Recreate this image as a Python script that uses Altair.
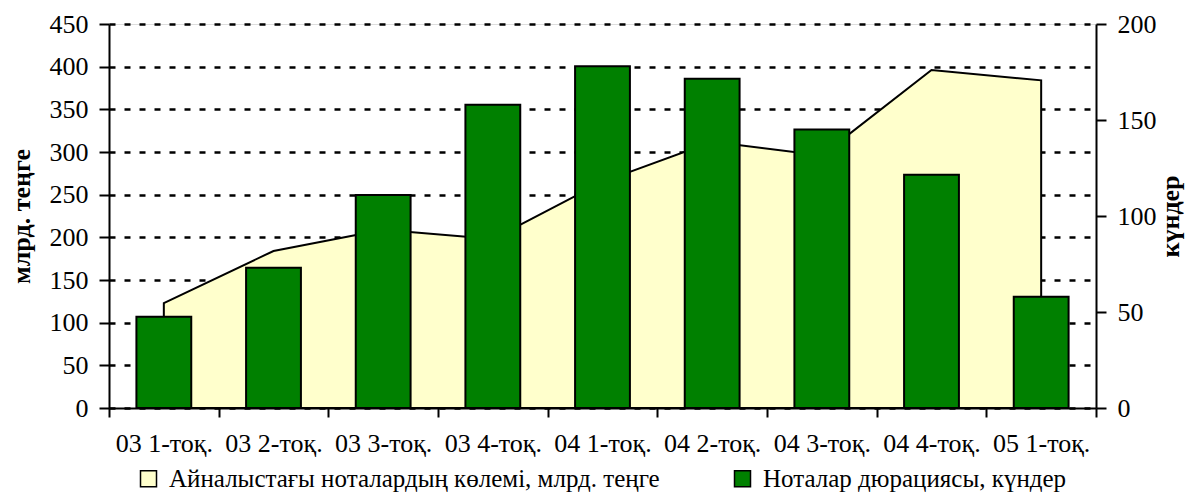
import altair as alt
import pandas as pd

quarters = ["03 1-тоқ.", "03 2-тоқ.", "03 3-тоқ.", "03 4-тоқ.", "04 1-тоқ.",
            "04 2-тоқ.", "04 3-тоқ.", "04 4-тоқ.", "05 1-тоқ."]
volume = [123, 184, 209, 198, 265, 312, 296, 396, 384]
duration = [47.5, 73, 111, 158, 178, 171.5, 145, 121.5, 58]

series_area = "Айналыстағы ноталардың көлемі, млрд. теңге"
series_bar = "Ноталар дюрациясы, күндер"

df_area = pd.DataFrame({"q": quarters, "v": volume, "s": series_area})
df_bar = pd.DataFrame({"q": quarters, "d": duration, "s": series_bar})

FONT = "Liberation Serif"
FS = 26

color_scale = alt.Scale(domain=[series_area, series_bar], range=["#FFFFCC", "#008000"])

area = alt.Chart(df_area).mark_area(stroke="black", strokeWidth=2, opacity=1).encode(
    x=alt.X("q:N", sort=quarters, title=None, bandPosition=0.5,
            scale=alt.Scale(paddingInner=0, paddingOuter=0),
            axis=alt.Axis(labelAngle=0, tickBand="extent", domainColor="black",
                          domainWidth=2, tickColor="black", tickWidth=2, tickSize=9,
                          labelFont=FONT, labelFontSize=FS, labelColor="black",
                          labelPadding=13, grid=False)),
    y=alt.Y("v:Q", scale=alt.Scale(domain=[0, 450], nice=False),
            axis=alt.Axis(values=list(range(0, 451, 50)), title="млрд. теңге",
                          orient="left", grid=True, gridColor="black", gridWidth=2.5,
                          gridDash=[6, 9], domainColor="black", domainWidth=2,
                          tickColor="black", tickWidth=2, tickSize=10,
                          labelFont=FONT, labelFontSize=FS, labelColor="black",
                          labelPadding=11, titleFont=FONT, titleFontSize=FS,
                          titleFontWeight="bold", titleColor="black", titleAngle=270,
                          titleAlign="center", titleBaseline="alphabetic",
                          titleX=-80, titleY=192)),
    color=alt.Color("s:N", scale=color_scale,
                    legend=alt.Legend(title=None, orient="none", direction="horizontal",
                                      legendX=27, legendY=442, padding=0,
                                      symbolType="square", symbolSize=256,
                                      symbolStrokeColor="black", symbolStrokeWidth=1.5,
                                      symbolOpacity=1, labelFont=FONT, labelFontSize=25,
                                      labelColor="black", labelLimit=800, labelOffset=8,
                                      columnPadding=70)),
)

bars = alt.Chart(df_bar).mark_bar(stroke="black", strokeWidth=2, opacity=1,
                                  width=alt.RelativeBandSize(0.5)).encode(
    x=alt.X("q:N", sort=quarters, title=None),
    y=alt.Y("d:Q", scale=alt.Scale(domain=[0, 200], nice=False),
            axis=alt.Axis(values=[0, 50, 100, 150, 200], title="күндер",
                          orient="right", grid=False, domainColor="black", domainWidth=2,
                          tickColor="black", tickWidth=2, tickSize=10,
                          labelFont=FONT, labelFontSize=FS, labelColor="black",
                          labelPadding=11, titleFont=FONT, titleFontSize=FS,
                          titleFontWeight="bold", titleColor="black", titleAngle=270,
                          titleAlign="center", titleBaseline="alphabetic",
                          titleX=82, titleY=192)),
    color=alt.Color("s:N", scale=color_scale),
)

chart = alt.layer(area, bars).resolve_scale(y="independent").properties(
    width=987, height=384,
    autosize=alt.AutoSizeParams(type="none"),
    padding={"left": 101, "top": 16, "right": 90, "bottom": 84},
).configure_view(stroke=None).configure(background="white")

chart.save("out.html", embed_options={"renderer": "svg", "actions": False})
